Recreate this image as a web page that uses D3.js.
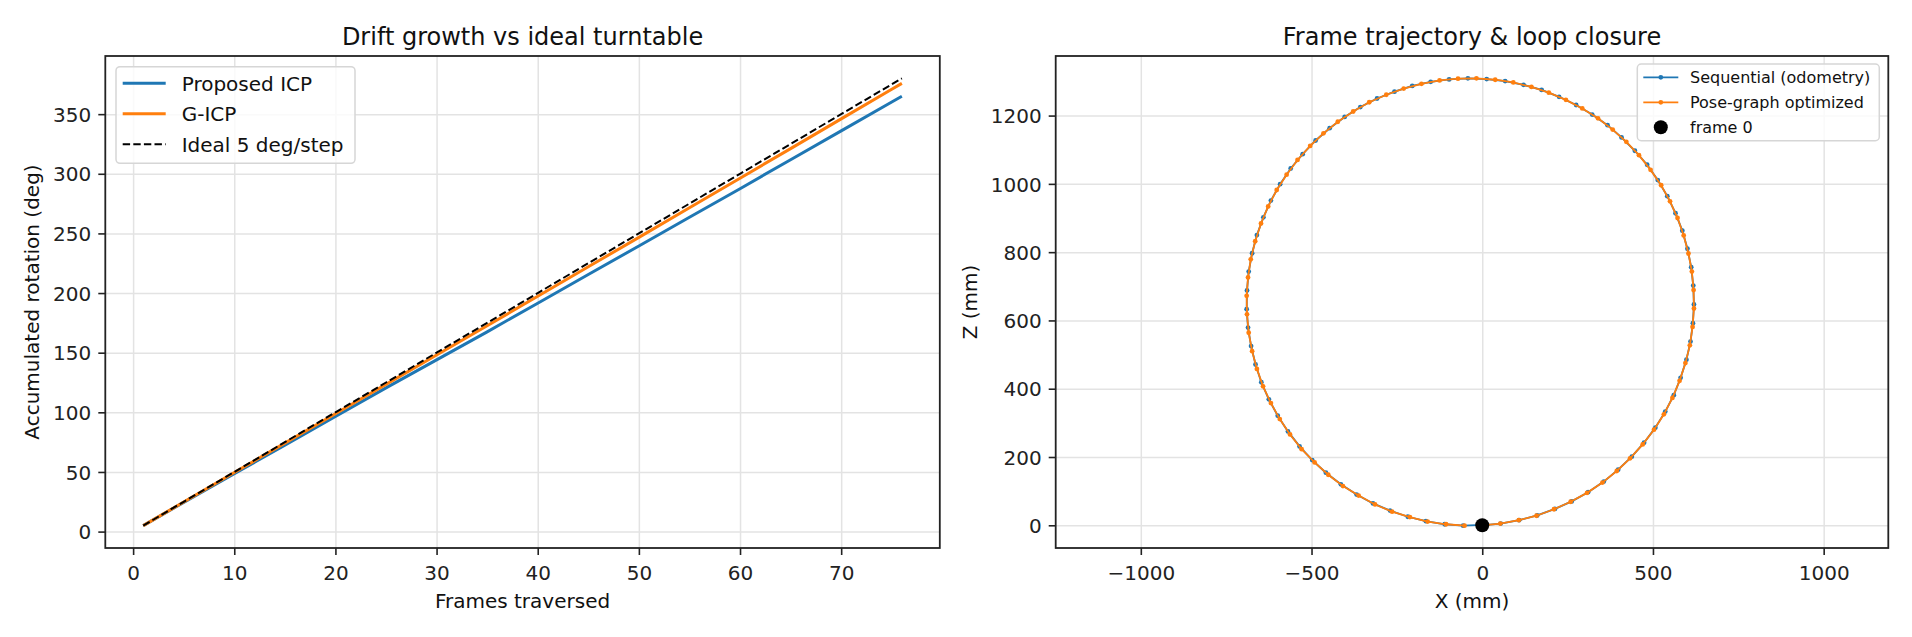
<!DOCTYPE html>
<html>
<head>
<meta charset="utf-8">
<script src="https://cdn.jsdelivr.net/npm/d3@7"></script>
<style>
  body { margin: 0; background: #fff; }
  svg { display: block; font-family: "DejaVu Sans", sans-serif; }
  .axis text { fill: #222; }
  .axis path, .axis line { stroke: #222; }
  .grid line { stroke: #e3e3e3; stroke-width: 1.5; }
  .grid path { display: none; }
</style>
</head>
<body>
<div id="chart"></div>
<script>
// left panel: accumulated rotation per frame
const frames = [1, 5, 10, 15, 20, 25, 30, 35, 40, 45, 50, 55, 60, 65, 70, 75, 76];
const proposedIcp = [5, 24.5, 48.5, 72.5, 96.5, 120.5, 144, 167.5, 191.5, 215.5, 239.5, 263.5, 287.5, 311.8, 336, 360.2, 365];
const gIcp = [5, 24.8, 49.5, 74.2, 98.8, 123.4, 148, 172.6, 197.3, 222, 246.7, 271.5, 296.3, 321.1, 346, 370.9, 375.8];
const ideal = [5, 25, 50, 75, 100, 125, 150, 175, 200, 225, 250, 275, 300, 325, 350, 375, 380];
const leftXTicks = [0, 10, 20, 30, 40, 50, 60, 70];
const leftYTicks = [0, 50, 100, 150, 200, 250, 300, 350];

// right panel: trajectory (mm)
const seqX = [-1, 54, 108, 161, 213, 262, 310, 356, 398, 438, 474, 507, 536, 561, 581, 598, 610, 617, 620, 618,
  612, 601, 586, 566, 542, 514, 483, 447, 408, 367, 322, 275, 225, 174, 121, 67, 13, -42, -97, -151,
  -205, -257, -308, -357, -403, -447, -488, -526, -561, -592, -619, -641, -660, -674, -684, -689, -690, -686, -677, -664,
  -647, -625, -599, -569, -535, -498, -458, -414, -368, -320, -270, -218, -165, -110, -56, 2];
const seqZ = [0, 5, 15, 29, 48, 70, 97, 128, 163, 201, 242, 286, 333, 381, 432, 485, 538, 592, 647, 702,
  756, 810, 863, 914, 964, 1011, 1056, 1097, 1136, 1172, 1203, 1231, 1255, 1275, 1290, 1301, 1307, 1309, 1306, 1299,
  1287, 1270, 1250, 1225, 1196, 1163, 1127, 1087, 1045, 999, 951, 902, 850, 797, 743, 688, 633, 579, 525, 471,
  419, 369, 321, 275, 231, 191, 154, 120, 90, 64, 43, 25, 12, 3, -1, 1];
const optX = [-1, 53, 107, 159, 210, 259, 307, 352, 394, 433, 470, 503, 532, 557, 578, 595, 608, 616, 620, 619,
  614, 604, 590, 572, 550, 524, 493, 459, 422, 382, 339, 293, 245, 195, 144, 91, 38, -17, -71, -125,
  -178, -230, -281, -331, -378, -423, -465, -504, -541, -573, -602, -627, -648, -665, -678, -686, -690, -689, -684, -674,
  -660, -642, -619, -593, -563, -529, -491, -451, -408, -362, -314, -264, -212, -160, -106, -52];
const optZ = [0, 5, 15, 28, 47, 69, 95, 125, 159, 196, 237, 280, 325, 373, 423, 475, 527, 581, 635, 689,
  743, 796, 849, 900, 949, 996, 1041, 1084, 1123, 1159, 1192, 1221, 1246, 1267, 1284, 1297, 1305, 1309, 1308, 1303,
  1293, 1279, 1261, 1239, 1212, 1182, 1148, 1111, 1070, 1027, 982, 934, 884, 832, 779, 726, 672, 618, 564, 510,
  458, 407, 358, 311, 266, 223, 184, 148, 115, 87, 61, 40, 24, 11, 3, -1];
const frame0 = [0, 0];
const rightXTicks = [-1000, -500, 0, 500, 1000];
const rightYTicks = [0, 200, 400, 600, 800, 1000, 1200];

const width = 1912;
const height = 637;
const fs = 20;

const svg = d3.select("#chart").append("svg")
  .attr("width", width)
  .attr("height", height);

svg.append("rect").attr("width", width).attr("height", height).attr("fill", "#fff");

// ---------- left panel ----------
const L = { left: 105.3, right: 939.8, top: 56, bottom: 548 };
const lx = d3.scaleLinear().domain([-2.75, 79.75]).range([L.left, L.right]);
const ly = d3.scaleLinear().domain([-13.75, 398.75]).range([L.bottom, L.top]);

function drawFrame(box, xs, ys, xTicks, yTicks) {
  const g = svg.append("g");
  g.append("g").attr("class", "grid")
    .attr("transform", `translate(0,${box.bottom})`)
    .call(d3.axisBottom(xs).tickValues(xTicks).tickSize(-(box.bottom - box.top)).tickFormat(""));
  g.append("g").attr("class", "grid")
    .attr("transform", `translate(${box.left},0)`)
    .call(d3.axisLeft(ys).tickValues(yTicks).tickSize(-(box.right - box.left)).tickFormat(""));
  return g;
}

function drawAxes(box, xs, ys, xTicks, yTicks) {
  const fmt = d3.format("d");
  const xa = svg.append("g").attr("class", "axis")
    .attr("transform", `translate(0,${box.bottom})`)
    .call(d3.axisBottom(xs).tickValues(xTicks).tickFormat(fmt).tickSize(7).tickPadding(10.8).tickSizeOuter(0));
  const ya = svg.append("g").attr("class", "axis")
    .attr("transform", `translate(${box.left},0)`)
    .call(d3.axisLeft(ys).tickValues(yTicks).tickFormat(fmt).tickSize(7).tickPadding(7).tickSizeOuter(0));
  [xa, ya].forEach((a) => {
    a.select(".domain").remove();
    a.selectAll(".tick line").attr("stroke-width", 1.6);
    a.selectAll("text").attr("font-size", fs).attr("font-family", "DejaVu Sans");
  });
  ya.selectAll("text").attr("dy", "0.36em");
  svg.append("rect")
    .attr("x", box.left).attr("y", box.top)
    .attr("width", box.right - box.left).attr("height", box.bottom - box.top)
    .attr("fill", "none").attr("stroke", "#222").attr("stroke-width", 1.8);
}

drawFrame(L, lx, ly, leftXTicks, leftYTicks);

const leftSeries = [
  { name: "Proposed ICP", values: proposedIcp, color: "#1f77b4", width: 3, dash: null },
  { name: "G-ICP", values: gIcp, color: "#ff7f0e", width: 3, dash: null },
  { name: "Ideal 5 deg/step", values: ideal, color: "#000", width: 2, dash: "7.4,3.2" },
];

const lline = d3.line().x((d) => lx(d[0])).y((d) => ly(d[1]));
leftSeries.forEach((s) => {
  svg.append("path")
    .datum(frames.map((f, i) => [f, s.values[i]]))
    .attr("fill", "none")
    .attr("stroke", s.color)
    .attr("stroke-width", s.width)
    .attr("stroke-dasharray", s.dash)
    .attr("d", lline);
});

drawAxes(L, lx, ly, leftXTicks, leftYTicks);

svg.append("text")
  .attr("x", (L.left + L.right) / 2).attr("y", 44.5)
  .attr("text-anchor", "middle").attr("font-size", 24).attr("fill", "#111")
  .text("Drift growth vs ideal turntable");
svg.append("text")
  .attr("x", (L.left + L.right) / 2).attr("y", 608)
  .attr("text-anchor", "middle").attr("font-size", fs).attr("fill", "#111")
  .text("Frames traversed");
svg.append("text")
  .attr("transform", `translate(39,${(L.top + L.bottom) / 2}) rotate(-90)`)
  .attr("text-anchor", "middle").attr("font-size", fs).attr("fill", "#111")
  .text("Accumulated rotation (deg)");

// left legend
const lg = svg.append("g");
lg.append("rect")
  .attr("x", 116).attr("y", 66.7).attr("width", 239).attr("height", 96.6)
  .attr("rx", 4).attr("fill", "#fff").attr("fill-opacity", 0.8)
  .attr("stroke", "#d6d6d6").attr("stroke-width", 1.5);
leftSeries.forEach((s, i) => {
  const yy = 83.3 + i * 30.5;
  lg.append("line")
    .attr("x1", 122.7).attr("x2", 165.7).attr("y1", yy).attr("y2", yy)
    .attr("stroke", s.color).attr("stroke-width", s.width).attr("stroke-dasharray", s.dash);
  lg.append("text")
    .attr("x", 181.7).attr("y", yy + 7.3)
    .attr("font-size", fs).attr("fill", "#111").text(s.name);
});

// ---------- right panel ----------
const R = { left: 1055.7, right: 1888.3, top: 56, bottom: 548 };
const allZ = seqZ.concat(optZ);
const allX = seqX.concat(optX);
const zMin = d3.min(allZ), zMax = d3.max(allZ);
const zPad = (zMax - zMin) * 0.05;
const ry = d3.scaleLinear().domain([zMin - zPad, zMax + zPad]).range([R.bottom, R.top]);
// equal aspect: same mm per pixel on both axes
const mmPerPx = (zMax - zMin + 2 * zPad) / (R.bottom - R.top);
const xMid = (d3.min(allX) + d3.max(allX)) / 2 + 5;
const halfW = (R.right - R.left) * mmPerPx / 2;
const rx = d3.scaleLinear().domain([xMid - halfW, xMid + halfW]).range([R.left, R.right]);

drawFrame(R, rx, ry, rightXTicks, rightYTicks);

const rightSeries = [
  { name: "Sequential (odometry)", xs: seqX, zs: seqZ, color: "#1f77b4" },
  { name: "Pose-graph optimized", xs: optX, zs: optZ, color: "#ff7f0e" },
];
const rline = d3.line().x((d) => rx(d[0])).y((d) => ry(d[1]));

rightSeries.forEach((s) => {
  const pts = s.xs.map((x, i) => [x, s.zs[i]]);
  svg.append("path")
    .datum(pts)
    .attr("fill", "none").attr("stroke", s.color).attr("stroke-width", 1.8)
    .attr("d", rline);
  svg.append("g").selectAll("circle")
    .data(pts).enter().append("circle")
    .attr("cx", (d) => rx(d[0])).attr("cy", (d) => ry(d[1]))
    .attr("r", 2.4).attr("fill", s.color);
});

svg.append("circle")
  .attr("cx", rx(frame0[0])).attr("cy", ry(frame0[1]))
  .attr("r", 7).attr("fill", "#000");

drawAxes(R, rx, ry, rightXTicks, rightYTicks);

svg.append("text")
  .attr("x", (R.left + R.right) / 2).attr("y", 44.5)
  .attr("text-anchor", "middle").attr("font-size", 24).attr("fill", "#111")
  .text("Frame trajectory & loop closure");
svg.append("text")
  .attr("x", (R.left + R.right) / 2).attr("y", 608)
  .attr("text-anchor", "middle").attr("font-size", fs).attr("fill", "#111")
  .text("X (mm)");
svg.append("text")
  .attr("transform", `translate(977,${(R.top + R.bottom) / 2}) rotate(-90)`)
  .attr("text-anchor", "middle").attr("font-size", fs).attr("fill", "#111")
  .text("Z (mm)");

// right legend
const rg = svg.append("g");
rg.append("rect")
  .attr("x", 1637.3).attr("y", 64).attr("width", 242).attr("height", 76.7)
  .attr("rx", 4).attr("fill", "#fff").attr("fill-opacity", 0.8)
  .attr("stroke", "#d6d6d6").attr("stroke-width", 1.5);
rightSeries.forEach((s, i) => {
  const yy = 77.3 + i * 25;
  rg.append("line")
    .attr("x1", 1643.3).attr("x2", 1678.3).attr("y1", yy).attr("y2", yy)
    .attr("stroke", s.color).attr("stroke-width", 1.8);
  rg.append("circle").attr("cx", 1660.8).attr("cy", yy).attr("r", 2.4).attr("fill", s.color);
  rg.append("text")
    .attr("x", 1690).attr("y", yy + 5.8)
    .attr("font-size", 16).attr("fill", "#111").text(s.name);
});
rg.append("circle").attr("cx", 1660.8).attr("cy", 127.3).attr("r", 7).attr("fill", "#000");
rg.append("text")
  .attr("x", 1690).attr("y", 127.3 + 5.8)
  .attr("font-size", 16).attr("fill", "#111").text("frame 0");
</script>
</body>
</html>
